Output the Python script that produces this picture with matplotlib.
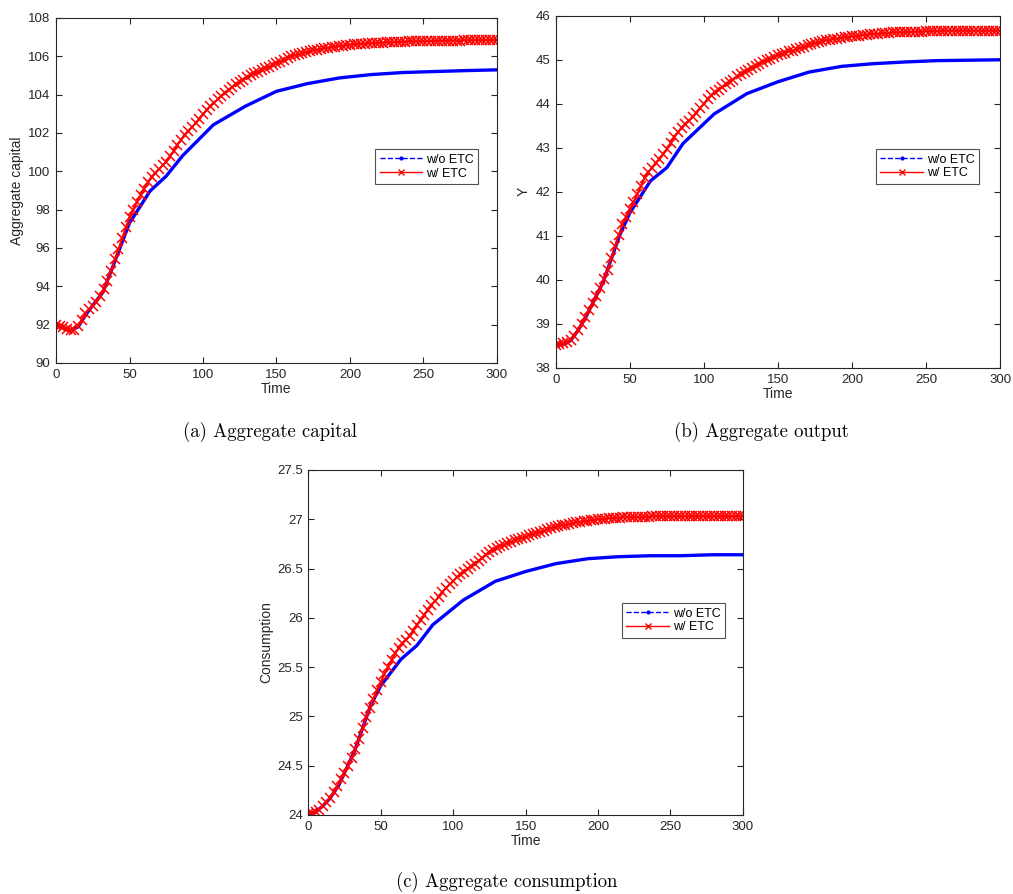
import numpy as np
import matplotlib
matplotlib.use("Agg")
import matplotlib.pyplot as plt
from matplotlib.lines import Line2D

# time grid of the "w/ ETC" series (every 2.5 periods) and the coarser "w/o ETC" grid
t_etc = np.arange(0, 300.1, 2.5)
t_no = [0, 5, 10, 15, 21, 32, 43, 50, 64, 75, 86, 107, 129, 150, 171, 193, 214, 236, 257, 279, 300]

# (a) aggregate capital
cap_etc = [92.0, 91.93, 91.85, 91.77, 91.72, 91.74, 91.93, 92.25, 92.6, 92.8,
           92.97, 93.2, 93.5, 93.85, 94.3, 94.82, 95.4, 95.95, 96.5, 97.07,
           97.6, 98.0, 98.4, 98.77, 99.1, 99.42, 99.7, 99.9, 100.1, 100.3,
           100.5, 100.77, 101.05, 101.35, 101.65, 101.9, 102.1, 102.3, 102.5, 102.74,
           102.97, 103.19, 103.4, 103.58, 103.75, 103.93, 104.1, 104.25, 104.4, 104.53,
           104.66, 104.78, 104.9, 105.0, 105.1, 105.2, 105.3, 105.38, 105.45, 105.54,
           105.63, 105.72, 105.82, 105.91, 106.0, 106.05, 106.1, 106.15, 106.2, 106.25,
           106.3, 106.34, 106.38, 106.41, 106.44, 106.47, 106.5, 106.53, 106.55, 106.58,
           106.6, 106.62, 106.63, 106.65, 106.66, 106.67, 106.68, 106.69, 106.7, 106.71,
           106.72, 106.72, 106.73, 106.74, 106.75, 106.76, 106.77, 106.77, 106.78, 106.78,
           106.78, 106.79, 106.79, 106.8, 106.8, 106.81, 106.81, 106.82, 106.82, 106.82,
           106.82, 106.83, 106.83, 106.83, 106.84, 106.84, 106.84, 106.84, 106.85, 106.85,
           106.85]
cap_no = [92.0, 91.83, 91.7, 91.88, 92.6, 93.7, 95.9, 97.3, 98.97, 99.75, 100.8, 102.42, 103.4,
          104.17, 104.57, 104.87, 105.04, 105.15, 105.2, 105.25, 105.29]

# (b) aggregate output
out_etc = [38.53, 38.54, 38.56, 38.59, 38.63, 38.73, 38.86, 39.0, 39.16, 39.31,
           39.47, 39.63, 39.81, 40.01, 40.23, 40.49, 40.76, 41.02, 41.26, 41.44,
           41.6, 41.77, 41.94, 42.13, 42.32, 42.44, 42.55, 42.65, 42.74, 42.85,
           42.97, 43.1, 43.24, 43.35, 43.46, 43.54, 43.62, 43.71, 43.8, 43.9,
           44.0, 44.1, 44.19, 44.26, 44.32, 44.38, 44.44, 44.5, 44.55, 44.62,
           44.68, 44.73, 44.77, 44.82, 44.86, 44.91, 44.95, 44.99, 45.02, 45.06,
           45.1, 45.13, 45.16, 45.19, 45.21, 45.24, 45.27, 45.3, 45.33, 45.35,
           45.38, 45.4, 45.42, 45.44, 45.45, 45.47, 45.48, 45.5, 45.51, 45.52,
           45.53, 45.54, 45.55, 45.56, 45.57, 45.58, 45.59, 45.59, 45.6, 45.6,
           45.61, 45.62, 45.62, 45.62, 45.63, 45.63, 45.63, 45.64, 45.64, 45.64,
           45.65, 45.65, 45.65, 45.65, 45.65, 45.66, 45.66, 45.66, 45.66, 45.66,
           45.66, 45.66, 45.66, 45.66, 45.66, 45.66, 45.66, 45.66, 45.66, 45.66,
           45.66]
out_no = [38.52, 38.55, 38.62, 38.85, 39.2, 39.95, 41.0, 41.52, 42.25, 42.55, 43.1, 43.77, 44.23,
          44.5, 44.72, 44.85, 44.91, 44.95, 44.98, 44.99, 45.0]

# (c) aggregate consumption
con_etc = [24.01, 24.02, 24.03, 24.05, 24.09, 24.13, 24.17, 24.23, 24.29, 24.36,
           24.43, 24.5, 24.58, 24.67, 24.77, 24.88, 24.99, 25.09, 25.18, 25.27,
           25.35, 25.43, 25.5, 25.57, 25.64, 25.69, 25.74, 25.78, 25.82, 25.87,
           25.93, 25.98, 26.03, 26.08, 26.13, 26.17, 26.21, 26.26, 26.3, 26.34,
           26.37, 26.41, 26.44, 26.47, 26.5, 26.53, 26.55, 26.58, 26.61, 26.64,
           26.67, 26.69, 26.71, 26.73, 26.74, 26.76, 26.77, 26.79, 26.8, 26.81,
           26.82, 26.84, 26.85, 26.86, 26.87, 26.88, 26.9, 26.91, 26.92, 26.93,
           26.94, 26.94, 26.95, 26.96, 26.97, 26.97, 26.98, 26.98, 26.99, 26.99,
           27.0, 27.0, 27.005, 27.01, 27.01, 27.015, 27.015, 27.02, 27.02, 27.02,
           27.02, 27.02, 27.02, 27.025, 27.025, 27.03, 27.03, 27.03, 27.03, 27.03,
           27.03, 27.03, 27.03, 27.03, 27.03, 27.03, 27.03, 27.03, 27.03, 27.03,
           27.03, 27.03, 27.03, 27.03, 27.03, 27.03, 27.03, 27.03, 27.03, 27.03,
           27.03]
con_no = [24.01, 24.03, 24.09, 24.17, 24.3, 24.65, 25.11, 25.31, 25.58, 25.72, 25.93, 26.18, 26.37,
          26.47, 26.55, 26.6, 26.62, 26.63, 26.63, 26.64, 26.64]

panels = [
    ([0.0553, 0.594, 0.4353, 0.386], cap_etc, cap_no, "Aggregate capital", (90, 108), np.arange(90, 109, 2),
     (0.957, 0.619), "(a) Aggregate capital", (0.267, 0.517)),
    ([0.5486, 0.5884, 0.4386, 0.394], out_etc, out_no, "Y", (38, 46), np.arange(38, 47, 1),
     (0.952, 0.621), "(b) Aggregate output", (0.752, 0.517)),
    ([0.3043, 0.0884, 0.4291, 0.3859], con_etc, con_no, "Consumption", (24, 27.5), np.arange(24, 27.6, 0.5),
     (0.958, 0.614), "(c) Aggregate consumption", (0.5, 0.014)),
]

plt.rcParams['font.family'] = ['Liberation Sans', 'DejaVu Sans']
fig = plt.figure(figsize=(10.13, 8.94), dpi=100)

for rect, y_etc, y_no, ylab, ylim, yticks, leg_pos, caption, cap_pos in panels:
    ax = fig.add_axes(rect)
    ax.plot(t_no, y_no, color=(0, 0, 1), lw=2.4)
    ax.plot(t_etc, y_etc, color=(1, 0, 0), lw=1.4, marker='x', ms=7, mew=1.1)
    ax.set_xlim(0, 300)
    ax.set_ylim(*ylim)
    ax.set_xticks(np.arange(0, 301, 50))
    ax.set_yticks(yticks)
    ax.set_yticklabels([f"{v:g}" for v in yticks])
    ax.tick_params(direction='in', top=True, right=True, labelsize=9.5, length=4,
                   color='0.15', labelcolor='0.15', pad=4)
    for s in ax.spines.values():
        s.set_color('0.15')
        s.set_linewidth(0.8)
    ax.set_xlabel("Time", fontsize=10, color='0.15', labelpad=1)
    ax.set_ylabel(ylab, fontsize=10, color='0.15', labelpad=3)
    handles = [Line2D([], [], color='b', ls='--', marker='.', ms=4, lw=1),
               Line2D([], [], color='r', ls='-', marker='x', ms=5, lw=1)]
    leg = ax.legend(handles, ["w/o ETC", "w/ ETC"], loc='upper right', bbox_to_anchor=leg_pos,
                    fontsize=9, frameon=True, fancybox=False, edgecolor='0.15',
                    handlelength=3.4, handletextpad=0.3, borderpad=0.35, labelspacing=0.15,
                    borderaxespad=0)
    leg.get_frame().set_linewidth(0.8)
    fig.text(cap_pos[0], cap_pos[1], caption, ha='center', va='center', fontsize=13.5,
             family='cmr10')

fig.savefig("out.png", dpi=100)
